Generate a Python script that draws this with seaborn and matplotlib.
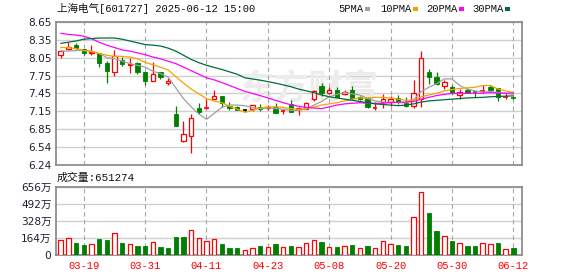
import numpy as np
import pandas as pd
import matplotlib
matplotlib.use("Agg")
import matplotlib.pyplot as plt
from matplotlib.patches import Rectangle
import seaborn as sns

# ---------------- data ----------------
dates = ["03-14", "03-17", "03-18", "03-19", "03-20", "03-21", "03-24", "03-25", "03-26", "03-27",
         "03-28", "03-31", "04-01", "04-02", "04-03", "04-07", "04-08", "04-09", "04-10", "04-11",
         "04-14", "04-15", "04-16", "04-17", "04-18", "04-21", "04-22", "04-23", "04-24", "04-25",
         "04-28", "04-29", "04-30", "05-06", "05-07", "05-08", "05-09", "05-12", "05-13", "05-14",
         "05-15", "05-16", "05-19", "05-20", "05-21", "05-22", "05-23", "05-26", "05-27", "05-28",
         "05-29", "05-30", "06-03", "06-04", "06-05", "06-06", "06-09", "06-10", "06-11", "06-12"]
tick_dates = ["03-19", "03-31", "04-11", "04-23", "05-08", "05-20", "05-30", "06-12"]

opens = [8.09, 8.20, 8.27, 8.19, 8.12, 8.12, 7.96, 7.81, 8.01, 7.92,
         7.96, 7.80, 7.66, 7.80, 7.63, 7.10, 6.65, 6.73, 7.20, 7.19,
         7.36, 7.40, 7.23, 7.22, 7.17, 7.18, 7.21, 7.195, 7.21, 7.14,
         7.27, 7.18, 7.19, 7.35, 7.57, 7.46, 7.51, 7.44, 7.50, 7.38,
         7.37, 7.20, 7.31, 7.31, 7.365, 7.29, 7.23, 7.36, 7.80, 7.72,
         7.565, 7.55, 7.415, 7.505, 7.47, 7.48, 7.555, 7.53, 7.38, 7.38]
highs = [8.17, 8.31, 8.30, 8.20, 8.26, 8.13, 7.99, 8.18, 8.06, 8.04,
         7.98, 7.81, 7.97, 7.81, 7.71, 7.23, 6.98, 7.10, 7.29, 7.35,
         7.50, 7.41, 7.31, 7.23, 7.19, 7.25, 7.26, 7.25, 7.28, 7.19,
         7.34, 7.22, 7.30, 7.50, 7.63, 7.55, 7.55, 7.50, 7.57, 7.41,
         7.39, 7.30, 7.44, 7.40, 7.42, 7.38, 7.68, 8.16, 7.86, 7.80,
         7.68, 7.59, 7.52, 7.535, 7.49, 7.58, 7.58, 7.545, 7.45, 7.40]
lows = [8.05, 8.18, 8.19, 8.10, 8.10, 7.90, 7.63, 7.74, 7.91, 7.79,
        7.77, 7.58, 7.65, 7.69, 7.58, 6.89, 6.63, 6.45, 7.10, 7.19,
        7.35, 7.22, 7.16, 7.16, 7.13, 7.15, 7.15, 7.17, 7.12, 7.10,
        7.13, 7.08, 7.18, 7.32, 7.40, 7.44, 7.39, 7.42, 7.35, 7.33,
        7.20, 7.17, 7.20, 7.24, 7.27, 7.22, 7.20, 7.22, 7.61, 7.58,
        7.52, 7.44, 7.35, 7.455, 7.38, 7.46, 7.48, 7.325, 7.36, 7.35]
closes = [8.16, 8.23, 8.21, 8.12, 8.15, 7.96, 7.82, 8.08, 7.94, 7.95,
          7.80, 7.66, 7.77, 7.72, 7.66, 6.89, 6.77, 7.04, 7.13, 7.20,
          7.40, 7.29, 7.20, 7.17, 7.17, 7.245, 7.18, 7.21, 7.12, 7.15,
          7.13, 7.195, 7.29, 7.49, 7.46, 7.50, 7.39, 7.475, 7.37, 7.36,
          7.21, 7.21, 7.345, 7.36, 7.30, 7.23, 7.45, 8.04, 7.72, 7.61,
          7.635, 7.45, 7.465, 7.46, 7.46, 7.49, 7.51, 7.39, 7.39, 7.37]

ma5 = [8.16, 8.16, 8.17, 8.17, 8.16, 8.12, 8.05, 8.03, 7.99, 7.95,
       7.92, 7.89, 7.82, 7.78, 7.72, 7.54, 7.36, 7.22, 7.10, 7.01,
       7.11, 7.21, 7.25, 7.25, 7.24, 7.21, 7.19, 7.20, 7.19, 7.18,
       7.16, 7.16, 7.18, 7.25, 7.31, 7.39, 7.43, 7.46, 7.44, 7.42,
       7.36, 7.32, 7.30, 7.30, 7.29, 7.29, 7.34, 7.48, 7.55, 7.61,
       7.69, 7.69, 7.58, 7.52, 7.49, 7.47, 7.48, 7.46, 7.45, 7.43]
ma10 = [8.22, 8.22, 8.20, 8.17, 8.15, 8.12, 8.09, 8.07, 8.07, 8.06,
        8.03, 7.97, 7.93, 7.89, 7.84, 7.73, 7.62, 7.52, 7.44, 7.36,
        7.32, 7.29, 7.23, 7.18, 7.13, 7.16, 7.20, 7.22, 7.22, 7.21,
        7.19, 7.18, 7.19, 7.22, 7.25, 7.27, 7.29, 7.32, 7.35, 7.37,
        7.37, 7.38, 7.38, 7.37, 7.35, 7.33, 7.33, 7.39, 7.42, 7.45,
        7.49, 7.51, 7.53, 7.54, 7.55, 7.58, 7.58, 7.52, 7.49, 7.46]
ma20 = [8.46, 8.44, 8.43, 8.41, 8.37, 8.31, 8.26, 8.22, 8.18, 8.16,
        8.13, 8.10, 8.06, 8.03, 7.99, 7.95, 7.89, 7.83, 7.77, 7.71,
        7.675, 7.63, 7.58, 7.53, 7.48, 7.445, 7.41, 7.37, 7.33, 7.29,
        7.255, 7.23, 7.21, 7.20, 7.19, 7.22, 7.25, 7.27, 7.28, 7.29,
        7.28, 7.28, 7.28, 7.29, 7.30, 7.30, 7.31, 7.35, 7.38, 7.41,
        7.43, 7.445, 7.45, 7.45, 7.45, 7.45, 7.46, 7.45, 7.45, 7.455]
ma30 = [8.29, 8.31, 8.33, 8.36, 8.37, 8.38, 8.38, 8.38, 8.36, 8.33,
        8.30, 8.27, 8.26, 8.245, 8.21, 8.16, 8.09, 8.02, 7.965, 7.92,
        7.885, 7.85, 7.81, 7.77, 7.71, 7.69, 7.67, 7.645, 7.62, 7.59,
        7.56, 7.52, 7.49, 7.46, 7.42, 7.39, 7.37, 7.35, 7.33, 7.31,
        7.29, 7.27, 7.26, 7.25, 7.24, 7.25, 7.27, 7.30, 7.32, 7.33,
        7.34, 7.35, 7.36, 7.37, 7.375, 7.38, 7.39, 7.395, 7.40, 7.405]
ma_names = ["5PMA", "10PMA", "20PMA", "30PMA"]

last_volume = 651274
volumes = [141, 160, 115, 96, 102, 154, 144, 208, 115, 102,
           86, 86, 122, 77, 67, 173, 173, 237, 160, 134,
           150, 102, 67, 67, 45, 64, 86, 77, 102, 77,
           86, 77, 112, 141, 125, 74, 77, 86, 96, 64,
           86, 64, 131, 102, 96, 86, 371, 611, 403, 230,
           179, 134, 112, 86, 86, 112, 102, 115, 54, last_volume / 1e4]  # 万
vol_up = [1, 1, 0, 0, 1, 0, 0, 1, 0, 1,
          0, 0, 1, 0, 0, 0, 0, 1, 1, 1,
          1, 0, 0, 0, 1, 1, 0, 1, 0, 1,
          0, 1, 1, 1, 0, 1, 0, 1, 0, 1,
          0, 1, 1, 1, 0, 0, 1, 1, 0, 0,
          1, 0, 1, 0, 0, 1, 1, 0, 1, 0]

price_tick_labels = ["6.24", "6.54", "6.85", "7.15", "7.45", "7.75", "8.05", "8.35", "8.65"]
vol_tick_values = [0, 164, 328, 492, 656]
vol_tick_labels = ["0", "164万", "328万", "492万", "656万"]
title = "上海电气[601727] 2025-06-12 15:00"

# ---------------- style ----------------
sns.set_style("white")
plt.rcParams["font.family"] = ["DejaVu Sans", "Noto Sans CJK SC"]
MONO = ["Liberation Mono", "Noto Sans CJK SC"]
RED = "#ff0000"
GREEN = "#008000"
MA_COLORS = {"5PMA": "#a0a0a0", "10PMA": "#f5a300", "20PMA": "#ff00ff", "30PMA": "#006c3a"}
SPINE = "#8e8e8e"

W, H = 578, 276
def fx(px): return px / W
def fy(py): return 1 - py / H

fig = plt.figure(figsize=(W / 100, H / 100), dpi=100)
L, R = 55.5, 522
axp = fig.add_axes([fx(L), fy(165), (R - L) / W, (165 - 22) / H])
axv = fig.add_axes([fx(L), fy(255), (R - L) / W, (255 - 187) / H])

n = len(dates)
x = np.arange(n)
bw = 0.58
tick_idx = [dates.index(d) for d in tick_dates]

# watermark
axp.text(0.545, 0.54, "东方财富", transform=axp.transAxes, ha="center", va="center",
         fontsize=25, color="#ececec", family=["Noto Sans CJK SC"], weight="bold", zorder=0.6)

# vertical dashed date grid
for ax in (axp, axv):
    for t in tick_idx:
        ax.axvline(t, color="#a6a6a6", lw=0.8, ls=(0, (4, 3)), zorder=2)

# candles
for i in x:
    o, h, l, c = opens[i], highs[i], lows[i], closes[i]
    if c > o:
        col = RED
    elif c < o:
        col = GREEN
    else:
        col = "#000000"
    lo, hi = min(o, c), max(o, c)
    if hi - lo < 0.012:
        axp.vlines(i, l, h, color=col, lw=0.9, zorder=3)
        axp.hlines((o + c) / 2, i - bw / 2, i + bw / 2, color=col, lw=1.2, zorder=3)
    elif c > o:
        axp.vlines(i, l, lo, color=col, lw=0.9, zorder=3)
        axp.vlines(i, hi, h, color=col, lw=0.9, zorder=3)
        axp.bar(i, hi - lo, bottom=lo, width=bw, facecolor="white", edgecolor=col, lw=0.9, zorder=3)
    else:
        axp.vlines(i, l, h, color=col, lw=0.9, zorder=3)
        axp.bar(i, hi - lo, bottom=lo, width=bw, facecolor=col, edgecolor=col, lw=0.6, zorder=3)

# moving averages
ma_df = pd.DataFrame({"idx": np.tile(x, 4),
                      "value": ma5 + ma10 + ma20 + ma30,
                      "ma": np.repeat(ma_names, n)})
sns.lineplot(data=ma_df, x="idx", y="value", hue="ma", palette=MA_COLORS, ax=axp,
             legend=False, linewidth=0.9, sort=False, estimator=None, zorder=4)

# volume bars
for i in x:
    if vol_up[i]:
        axv.bar(i, volumes[i], width=bw, facecolor="white", edgecolor=RED, lw=0.9, zorder=3)
    else:
        axv.bar(i, volumes[i], width=bw, facecolor=GREEN, edgecolor=GREEN, lw=0.6, zorder=3)

for ax in (axp, axv):
    ax.set_xlim(-0.68, n + 0.13)
    ax.set_xticks(tick_idx)
    ax.set_xlabel("")
    ax.set_ylabel("")
    ax.set_axisbelow(True)
    ax.grid(axis="y", color="#d0d0d0", lw=1.0, ls="-")
    ax.grid(axis="x", visible=False)
    for s in ax.spines.values():
        s.set_color(SPINE)
        s.set_linewidth(1.3)
        s.set_visible(True)
    ax.tick_params(axis="both", length=0)

axp.set_ylim(6.24, 8.65)
axp.set_yticks(np.linspace(6.24, 8.65, len(price_tick_labels)))
axp.set_yticklabels(price_tick_labels)
axp.tick_params(axis="y", labelsize=7.6, labelcolor="#202030", pad=3)
axp.tick_params(axis="x", labelbottom=False)

axv.set_ylim(0, vol_tick_values[-1])
axv.set_yticks(vol_tick_values)
axv.set_yticklabels(vol_tick_labels)
axv.tick_params(axis="y", labelsize=7.6, labelcolor="#202030", pad=3)
axv.set_xticklabels(tick_dates)
axv.tick_params(axis="x", labelsize=7.6, labelcolor=RED, pad=4)
for t in axv.get_xticklabels():
    t.set_family(MONO)

# title and volume caption
fig.text(fx(57), fy(9), title, family=MONO, fontsize=7.6, va="center", ha="left", color="#111111")
fig.text(fx(57), fy(177.5), "成交量:%d" % last_volume, family=MONO, fontsize=7.8,
         va="center", ha="left", color="#111111")

# legend
leg_x = [338, 380, 426, 472]
sq_x = [365, 413, 459, 505]
for name, lx, sx in zip(ma_names, leg_x, sq_x):
    fig.text(fx(lx), fy(9), name, family=MONO, fontsize=7.6, va="center", ha="left", color="#111111")
    fig.patches.append(Rectangle((fx(sx), fy(10.5)), 5 / W, 3.4 / H, transform=fig.transFigure,
                                 facecolor=MA_COLORS[name], edgecolor="none", figure=fig))

fig.savefig("out.png", dpi=100)
